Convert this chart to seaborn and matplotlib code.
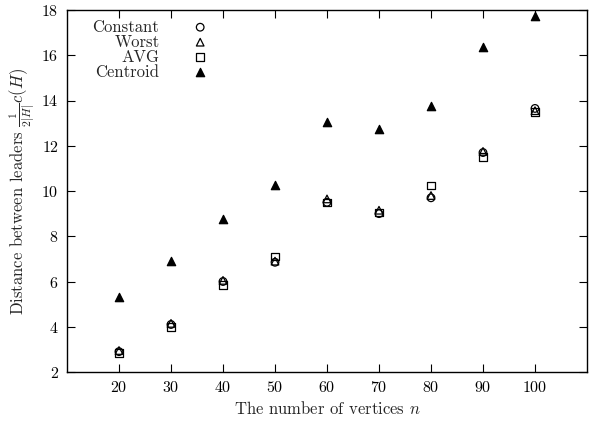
import matplotlib
matplotlib.use("Agg")
import matplotlib.pyplot as plt
import seaborn as sns
import numpy as np

n_vertices = [20, 30, 40, 50, 60, 70, 80, 90, 100]
constant = [2.90, 4.10, 6.00, 6.85, 9.50, 9.00, 9.70, 11.70, 13.65]
worst = [2.95, 4.15, 6.05, 6.90, 9.65, 9.15, 9.80, 11.75, 13.55]
avg = [2.85, 4.00, 5.85, 7.10, 9.50, 9.05, 10.25, 11.50, 13.50]
centroid = [5.30, 6.90, 8.75, 10.25, 13.05, 12.75, 13.75, 16.35, 17.75]

x_ticks = [20, 30, 40, 50, 60, 70, 80, 90, 100]
y_ticks = [2, 4, 6, 8, 10, 12, 14, 16, 18]

sns.set_style("ticks")
plt.rcParams["font.family"] = ["cmr10", "DejaVu Serif"]
plt.rcParams["mathtext.fontset"] = "cm"
plt.rcParams["axes.formatter.use_mathtext"] = True
plt.rcParams["axes.unicode_minus"] = False

fig = plt.figure(figsize=(6.0, 4.24), dpi=100)
ax = fig.add_axes([67 / 600, 52 / 424, 520 / 600, 362 / 424])

common = dict(ax=ax, color="black", linewidth=0.9)
sns.scatterplot(x=n_vertices, y=constant, marker="o", s=30, facecolors="none",
                edgecolors="black", label="Constant", **common)
sns.scatterplot(x=n_vertices, y=worst, marker="^", s=30, facecolors="none",
                edgecolors="black", label="Worst", **common)
sns.scatterplot(x=n_vertices, y=avg, marker="s", s=30, facecolors="none",
                edgecolors="black", label="AVG", **common)
sns.scatterplot(x=n_vertices, y=centroid, marker="^", s=36, facecolors="black",
                edgecolors="black", label="Centroid", **common)

ax.set_xlim(10, 110)
ax.set_ylim(2, 18)
ax.set_xticks(x_ticks)
ax.set_yticks(y_ticks)
ax.tick_params(direction="in", length=6, width=0.8, top=True, right=True,
               labelsize=11.5, colors="black", pad=6)
for sp in ax.spines.values():
    sp.set_visible(True)
    sp.set_linewidth(1.0)
    sp.set_color("black")

ax.set_xlabel("The number of vertices $n$", fontsize=12, labelpad=3)
ax.set_ylabel(r"Distance between leaders $\frac{1}{2|H|}c(H)$", fontsize=12, labelpad=3)

leg = ax.legend(loc="upper left", bbox_to_anchor=(0.03, 1.002), frameon=False,
                markerfirst=False, fontsize=12, labelspacing=-0.02,
                handletextpad=1.85, handlelength=1.2, borderaxespad=0.2)

fig.savefig("out.png", dpi=100)
